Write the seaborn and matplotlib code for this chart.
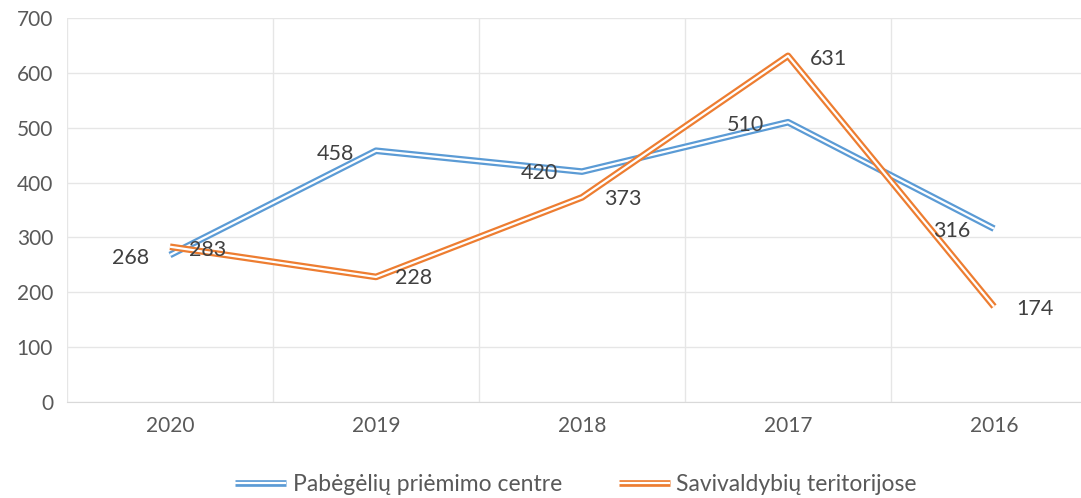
import pandas as pd
import matplotlib.pyplot as plt
import matplotlib.patheffects as pe
from matplotlib.lines import Line2D
import seaborn as sns

years = ["2020", "2019", "2018", "2017", "2016"]
centre = [268, 458, 420, 510, 316]
municip = [283, 228, 373, 631, 174]
series_names = ["Pabėgėlių priėmimo centre", "Savivaldybių teritorijose"]
colors = ["#5b9bd5", "#ed7d31"]

df = pd.DataFrame({
    "year": years * 2,
    "value": centre + municip,
    "series": [series_names[0]] * 5 + [series_names[1]] * 5,
})

sns.set_style("white")
plt.rcParams["font.family"] = ["Lato", "DejaVu Sans"]


def double_line(c):
    return [pe.Stroke(linewidth=4.8, foreground=c, capstyle="butt"),
            pe.Stroke(linewidth=1.6, foreground="white", capstyle="butt")]


fig = plt.figure(figsize=(10.81, 4.98), dpi=100)
ax = fig.add_axes([67 / 1081, 96 / 498, 1030 / 1081, 384 / 498])

sns.lineplot(data=df, x="year", y="value", hue="series", palette=colors,
             sort=False, ax=ax, legend=False, linewidth=1)

for line, c in zip(ax.get_lines(), colors):
    line.set_path_effects(double_line(c))

# data labels
offsets_c = [(-42, -2), (-43, -2), (-44, -1), (-44, -2), (-44, -2)]
offsets_m = [(14, -2), (14, -1), (16, -1), (16, -2), (16, -2)]
for i, y in enumerate(years):
    ax.annotate(str(centre[i]), (i, centre[i]), xytext=offsets_c[i],
                textcoords="offset points", fontsize=15.5, color="#404040",
                va="center")
    ax.annotate(str(municip[i]), (i, municip[i]), xytext=offsets_m[i],
                textcoords="offset points", fontsize=15.5, color="#404040",
                va="center")

ax.set_ylim(0, 700)
ax.set_yticks(range(0, 701, 100))
ax.set_xlim(-0.5, 4.5)
ax.set_xticks(range(5))
ax.set_xticklabels(years)
ax.set_xticks([i + 0.5 for i in range(-1, 5)], minor=True)
ax.grid(axis="y", color="#e6e6e6", linewidth=1)
ax.grid(axis="x", which="minor", color="#e6e6e6", linewidth=1)
ax.tick_params(axis="both", which="major", labelsize=15, colors="#595959",
               length=0, pad=10)
ax.tick_params(axis="x", which="minor", length=0)
ax.set_xlabel("")
ax.set_ylabel("")
for s in ["top", "right", "left"]:
    ax.spines[s].set_visible(False)
ax.spines["bottom"].set_color("#d9d9d9")

handles = [Line2D([0], [0], color=c, linewidth=1, path_effects=double_line(c))
           for c in colors]
fig.legend(handles, series_names, loc="lower center", ncol=2, frameon=False,
           fontsize=16.5, labelcolor="#595959", bbox_to_anchor=(0.533, -0.035),
           columnspacing=2.5, handlelength=2.2, handletextpad=0.3)

fig.savefig("out.png", dpi=100)
